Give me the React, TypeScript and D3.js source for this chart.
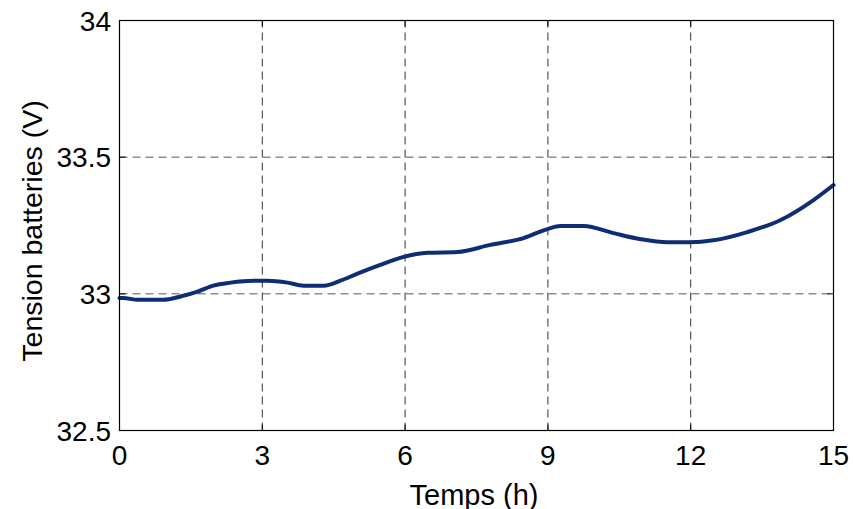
import React from "react";
import * as d3 from "d3";

const timeH = [0, 0.08, 0.38, 0.92, 1.28, 1.64, 1.97, 2.33, 2.82, 3.11, 3.53, 3.87, 4.29, 4.64, 5.0, 5.45, 5.97, 6.47, 7.1, 7.79, 8.49, 8.99, 9.26, 9.75, 10.38, 10.95, 11.51, 12.0, 12.48, 13.19, 13.89, 14.58, 15];
const voltage = [32.985, 32.985, 32.978, 32.978, 32.99, 33.008, 33.03, 33.041, 33.048, 33.048, 33.041, 33.03, 33.03, 33.048, 33.074, 33.104, 33.135, 33.15, 33.153, 33.179, 33.204, 33.237, 33.248, 33.248, 33.222, 33.2, 33.189, 33.189, 33.196, 33.226, 33.27, 33.343, 33.398];
const xTicks = [0, 3, 6, 9, 12, 15];
const yTicks = [32.5, 33, 33.5, 34];
const yTickLabels = ["32.5", "33", "33.5", "34"];

export default function App() {
  const W = 853, H = 509;
  const x = d3.scaleLinear().domain([0, 15]).range([119.5, 833.5]);
  const y = d3.scaleLinear().domain([32.5, 34]).range([430.5, 20.5]);
  const line = d3.line<number>().x((_, i) => x(timeH[i])).y((d) => y(d)).curve(d3.curveMonotoneX);
  const font = "Arial, 'Liberation Sans', sans-serif";
  return (
    <div style={{ position: "absolute", left: 0, top: 0 }}>
      <svg width={W} height={H} style={{ display: "block", background: "#fff" }}>
        <rect x={0} y={0} width={W} height={H} fill="#fff" />
        {xTicks.slice(1, -1).map((t) => (
          <line key={"gx" + t} x1={x(t)} x2={x(t)} y1={y(32.5)} y2={y(34)} stroke="#333" strokeWidth={1} strokeDasharray="8,5" />
        ))}
        {yTicks.slice(1, -1).map((t) => (
          <line key={"gy" + t} x1={x(0)} x2={x(15)} y1={y(t)} y2={y(t)} stroke="#555" strokeWidth={1} strokeDasharray="8,5" />
        ))}
        <path d={line(voltage) || ""} fill="none" stroke="#0f2d74" strokeWidth={4} strokeLinejoin="round" strokeLinecap="round" />
        <rect x={x(0)} y={y(34)} width={x(15) - x(0)} height={y(32.5) - y(34)} fill="none" stroke="#000" strokeWidth={1.2} />
        {xTicks.map((t) => (
          <g key={"tx" + t}>
            <line x1={x(t)} x2={x(t)} y1={y(32.5)} y2={y(32.5) - 6} stroke="#000" />
            <line x1={x(t)} x2={x(t)} y1={y(34)} y2={y(34) + 6} stroke="#000" />
            <text x={x(t)} y={465} fontSize={28} fontFamily={font} textAnchor="middle" fill="#000">{t}</text>
          </g>
        ))}
        {yTicks.map((t, i) => (
          <g key={"ty" + t}>
            <line x1={x(0)} x2={x(0) + 6} y1={y(t)} y2={y(t)} stroke="#000" />
            <line x1={x(15)} x2={x(15) - 6} y1={y(t)} y2={y(t)} stroke="#000" />
            <text x={111} y={y(t) + 10} fontSize={28} fontFamily={font} textAnchor="end" fill="#000">{yTickLabels[i]}</text>
          </g>
        ))}
        <text x={474} y={505} fontSize={29} fontFamily={font} textAnchor="middle" fill="#000">Temps (h)</text>
        <text transform={`translate(42,231) rotate(-90)`} fontSize={28.5} fontFamily={font} textAnchor="middle" fill="#000">Tension batteries (V)</text>
      </svg>
    </div>
  );
}
